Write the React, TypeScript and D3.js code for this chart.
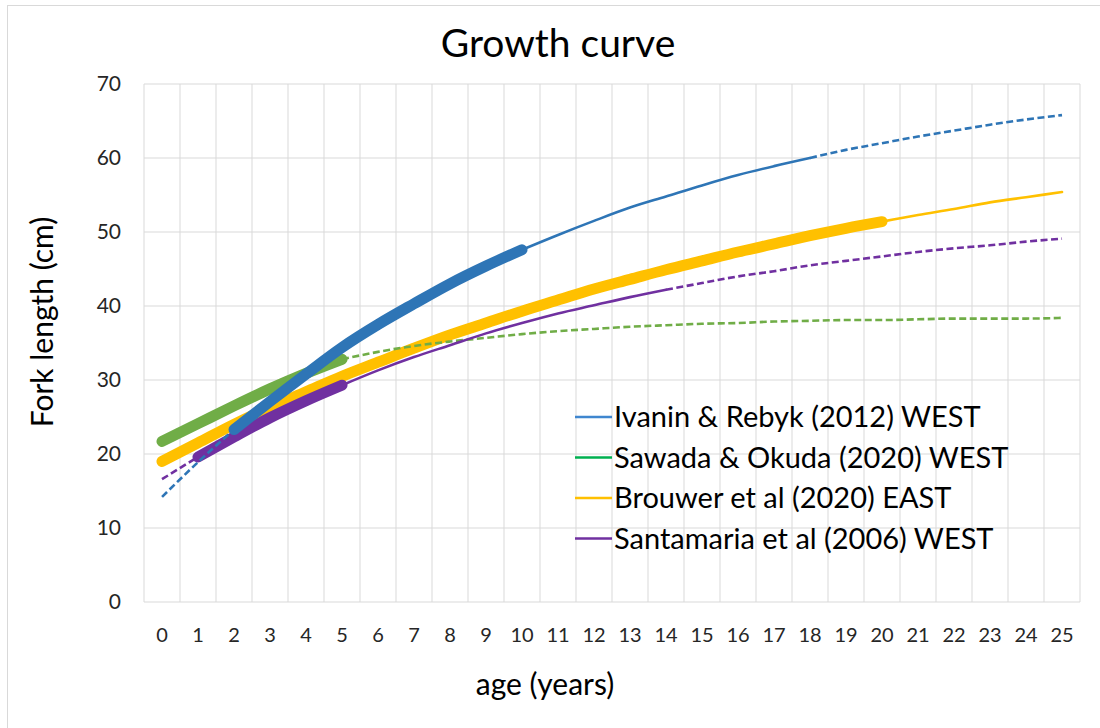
import React from 'react';
import * as d3 from 'd3';

// ---- data ----
const ageTicks = [0, 1, 2, 3, 4, 5, 6, 7, 8, 9, 10, 11, 12, 13, 14, 15, 16, 17, 18, 19, 20, 21, 22, 23, 24, 25];
const yTicks = [0, 10, 20, 30, 40, 50, 60, 70];

const seriesNames = [
  'Ivanin & Rebyk (2012) WEST',
  'Sawada & Okuda (2020) WEST',
  'Brouwer et al (2020) EAST',
  'Santamaria et al (2006) WEST',
];

const ivanin = [14.2, 18.9, 23.3, 27.1, 30.8, 34.4, 37.5, 40.3, 43.0, 45.4, 47.6, 49.6, 51.5, 53.3, 54.8, 56.3, 57.7, 58.9, 60.0, 61.1, 62.0, 62.9, 63.7, 64.5, 65.2, 65.8];
const sawada = [21.7, 24.1, 26.5, 28.8, 30.9, 32.8, 33.8, 34.6, 35.2, 35.7, 36.2, 36.6, 36.9, 37.2, 37.4, 37.6, 37.7, 37.9, 38.0, 38.1, 38.1, 38.2, 38.3, 38.3, 38.3, 38.4];
const brouwer = [19.0, 21.5, 24.0, 26.3, 28.4, 30.5, 32.4, 34.3, 36.1, 37.7, 39.3, 40.8, 42.3, 43.6, 44.9, 46.1, 47.3, 48.4, 49.5, 50.5, 51.4, 52.3, 53.1, 54.0, 54.7, 55.4];
const santamaria = [16.6, 19.6, 22.3, 24.9, 27.2, 29.3, 31.3, 33.1, 34.7, 36.3, 37.7, 39.0, 40.1, 41.2, 42.2, 43.1, 44.0, 44.7, 45.5, 46.1, 46.7, 47.3, 47.8, 48.2, 48.7, 49.1];

// age ranges: extrapolated / observed / model
const ivaninBreaks = [0, 2, 10, 18, 25];
const ivaninPhases = ['extrap', 'observed', 'model', 'extrap'];
const sawadaBreaks = [0, 5, 25];
const sawadaPhases = ['observed', 'extrap'];
const brouwerBreaks = [0, 20, 25];
const brouwerPhases = ['observed', 'model'];
const santamariaBreaks = [0, 1, 5, 14, 25];
const santamariaPhases = ['extrap', 'observed', 'model', 'extrap'];

// ---- layout ----
const W = 1100;
const H = 728;
const PL = 144, PR = 1080, PT = 84, PB = 602;
const FONT = 'Lato, "Open Sans", sans-serif';

const COLORS = ['#2E75B6', '#70AD47', '#FFC000', '#7030A0'];
const LEGEND_COLORS = ['#3F86CF', '#00B050', '#FFC000', '#7030A0'];

export default function App() {
  const x = d3.scaleBand<string>().domain(ageTicks.map(String)).range([PL, PR]);
  const bw = x.bandwidth();
  const xc = (a: number) => (x(String(a)) as number) + bw / 2;
  const y = d3.scaleLinear().domain([0, 70]).range([PB, PT]);

  const series = [
    { vals: ivanin, breaks: ivaninBreaks, phases: ivaninPhases, color: COLORS[0] },
    { vals: sawada, breaks: sawadaBreaks, phases: sawadaPhases, color: COLORS[1] },
    { vals: brouwer, breaks: brouwerBreaks, phases: brouwerPhases, color: COLORS[2] },
    { vals: santamaria, breaks: santamariaBreaks, phases: santamariaPhases, color: COLORS[3] },
  ];
  const drawOrder = [2, 1, 3, 0];

  const path = d3
    .line<[number, number]>()
    .x((d) => xc(d[0]))
    .y((d) => y(d[1]))
    .curve(d3.curveMonotoneX);

  const segs: any[] = [];
  drawOrder.forEach((si) => {
    const s = series[si];
    s.phases.forEach((ph, k) => {
      const a0 = s.breaks[k];
      const a1 = s.breaks[k + 1];
      const pts: [number, number][] = ageTicks.filter((a) => a >= a0 && a <= a1).map((a) => [a, s.vals[a]]);
      const style =
        ph === 'observed'
          ? { strokeWidth: 11, dash: undefined, cap: 'round' }
          : ph === 'model'
          ? { strokeWidth: 2.6, dash: undefined, cap: 'round' }
          : { strokeWidth: 2.6, dash: '7,3.5', cap: 'butt' };
      segs.push(
        <path
          key={`${si}-${k}`}
          d={path(pts) as string}
          fill="none"
          stroke={s.color}
          strokeWidth={style.strokeWidth}
          strokeDasharray={style.dash}
          strokeLinecap={style.cap as any}
          strokeLinejoin="round"
        />
      );
    });
  });

  const gridColor = '#D9D9D9';
  const boundaries = [...ageTicks.map((a) => x(String(a)) as number), PR];

  return (
    <svg width={W} height={H} style={{ position: 'absolute', left: 0, top: 0, background: '#fff' }} fontFamily={FONT}>
      <rect x={0} y={0} width={W} height={H} fill="#fff" />
      <rect x={7.5} y={5.5} width={W + 10} height={H + 10} fill="none" stroke={gridColor} strokeWidth={1} />
      <text x={558} y={57} textAnchor="middle" fontSize={39} fill="#000">
        Growth curve
      </text>
      {/* grid */}
      {yTicks.map((t) => (
        <line key={'h' + t} x1={PL} x2={PR} y1={y(t)} y2={y(t)} stroke={gridColor} strokeWidth={1} />
      ))}
      {boundaries.map((bx, i) => (
        <line key={'v' + i} x1={bx} x2={bx} y1={PT} y2={PB} stroke={gridColor} strokeWidth={1} />
      ))}
      {/* y tick labels */}
      {yTicks.map((t) => (
        <text key={'yl' + t} x={121} y={y(t)} dy="0.35em" textAnchor="end" fontSize={21} fill="#262626">
          {t}
        </text>
      ))}
      {/* x tick labels */}
      {ageTicks.map((a) => (
        <text key={'xl' + a} x={xc(a)} y={635} dy="0.35em" textAnchor="middle" fontSize={20} fill="#262626">
          {a}
        </text>
      ))}
      {/* axis titles */}
      <text transform={`translate(53,322) rotate(-90)`} textAnchor="middle" fontSize={30} fill="#000">
        Fork length (cm)
      </text>
      <text x={545} y={695} textAnchor="middle" fontSize={30} fill="#000">
        age (years)
      </text>
      {/* series */}
      {segs}
      {/* legend */}
      {seriesNames.map((n, i) => {
        const ly = 417 + i * 40.5;
        return (
          <g key={'lg' + i}>
            <line x1={575} x2={612} y1={ly} y2={ly} stroke={LEGEND_COLORS[i]} strokeWidth={2.5} />
            <text x={614} y={ly} dy="0.35em" fontSize={29} fill="#000">
              {n}
            </text>
          </g>
        );
      })}
    </svg>
  );
}
